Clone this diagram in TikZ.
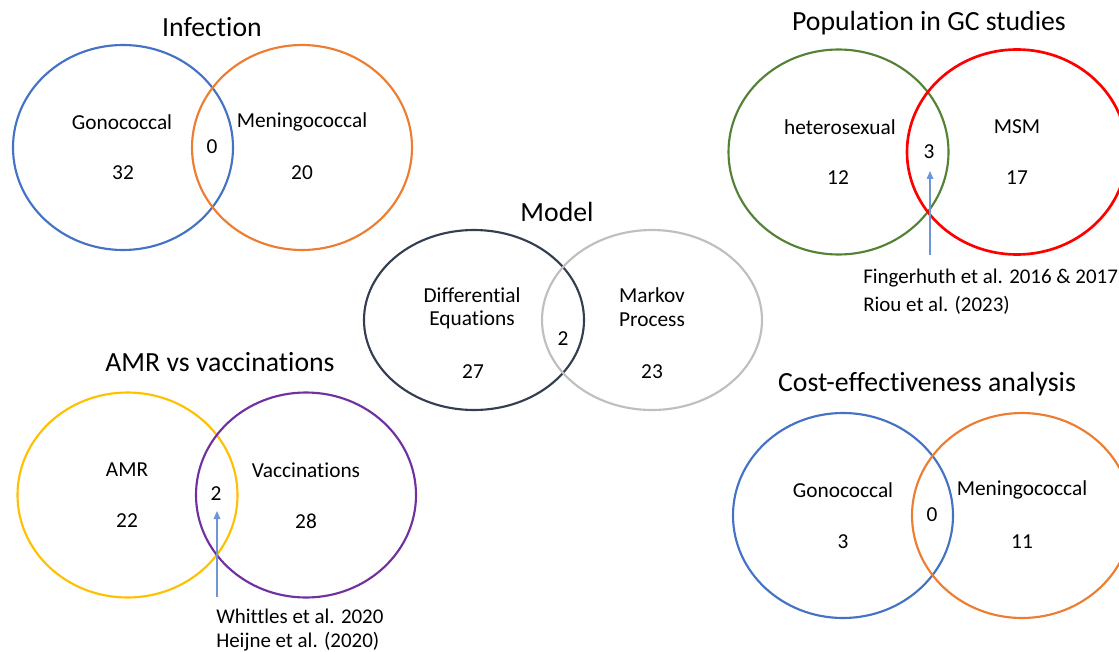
\documentclass[tikz,border=0pt]{standalone}
\usepackage{fontspec}
\setmainfont[Ligatures=NoCommon]{Carlito}
\usetikzlibrary{shapes.geometric,arrows.meta}
\definecolor{cblue}{HTML}{4472C4}
\definecolor{corange}{HTML}{ED7D31}
\definecolor{cgreen}{HTML}{548235}
\definecolor{cred}{HTML}{FF0000}
\definecolor{cdark}{HTML}{333F50}
\definecolor{cgray}{HTML}{BFBFBF}
\definecolor{cyellow}{HTML}{FFC000}
\definecolor{cpurple}{HTML}{7030A0}
\definecolor{carrow}{HTML}{6F95D6}
\def\pxu{0.75pt}
\tikzset{
  venn/.style={ellipse, draw, line width=1.6pt, minimum width=220*\pxu, minimum height=205*\pxu, inner sep=0pt},
  vennm/.style={venn, minimum height=180*\pxu},
  lbl/.style={font=\fontsize{16}{19}\selectfont, inner sep=0pt},
  ttl/.style={font=\fontsize{20.8}{24}\selectfont, inner sep=0pt},
  cite/.style={font=\fontsize{15.7}{19}\selectfont, inner sep=0pt, anchor=west},
  refarrow/.style={draw=carrow, line width=0.8pt, -{Triangle[length=6pt,width=5pt]}}
}
\begin{document}
\begin{tikzpicture}[x=\pxu, y=-\pxu]
\clip (0,0) rectangle (1119,652);
\fill[white] (0,0) rectangle (1119,652);
% Infection
\node[ttl] (t1) at (212,27) {Infection};
\node[venn, draw=cblue] (i1) at (123,147.5) {};
\node[venn, draw=corange] (i2) at (302,147.5) {};
\node[lbl] (i1a) at (122,122) {Gonococcal};
\node[lbl] (i1b) at (123,173) {32};
\node[lbl] (i0) at (212,147) {0};
\node[lbl] (i2a) at (302,122) {Meningococcal};
\node[lbl] (i2b) at (302,173) {20};
% Population
\node[ttl] (t2) at (929,23) {Population in GC studies};
\node[venn, draw=cgreen] (p1) at (838.5,152) {};
\node[venn, draw=cred, line width=2pt] (p2) at (1017,152) {};
\node[lbl] (p1a) at (840,127) {heterosexual};
\node[lbl] (p1b) at (838,178) {12};
\node[lbl] (p0) at (929,152) {3};
\node[lbl] (p2a) at (1017,127) {MSM};
\node[lbl] (p2b) at (1017,178) {17};
\coordinate (pas) at (930,255);
\coordinate (pae) at (930,171);
\draw[refarrow] (pas) -- (pae);
\node[cite] (pc1) at (863,278) {Fingerhuth et al. 2016 \& 2017};
\node[cite] (pc2) at (863,305) {Riou et al. (2023)};
% Model
\node[ttl] (t3) at (557,212) {Model};
\node[vennm, draw=cdark] (m1) at (474,320) {};
\node[vennm, draw=cgray] (m2) at (652,320) {};
\node[lbl] (m1a) at (472,295) {Differential};
\node[lbl] (m1c) at (472,320) {Equations};
\node[lbl] (m1b) at (473,372) {27};
\node[lbl] (m0) at (563,339) {2};
\node[lbl] (m2a) at (652,295) {Markov};
\node[lbl] (m2c) at (652,320) {Process};
\node[lbl] (m2b) at (652,372) {23};
% AMR vs vaccinations
\node[ttl] (t4) at (220,362) {AMR vs vaccinations};
\node[venn, draw=cyellow] (a1) at (127.5,495) {};
\node[venn, draw=cpurple] (a2) at (306,495) {};
\node[lbl] (a1a) at (127,470) {AMR};
\node[lbl] (a1b) at (127,521) {22};
\node[lbl] (a0) at (216,494) {2};
\node[lbl] (a2a) at (306,470) {Vaccinations};
\node[lbl] (a2b) at (306,521) {28};
\coordinate (aas) at (217,597);
\coordinate (aae) at (217,511);
\draw[refarrow] (aas) -- (aae);
\node[cite] (ac1) at (216,616) {Whittles et al. 2020};
\node[cite] (ac2) at (216,642) {Heijne et al. (2020)};
% Cost-effectiveness
\node[ttl] (t5) at (927,384) {Cost-effectiveness analysis};
\node[venn, draw=cblue] (c1) at (843,515.5) {};
\node[venn, draw=corange] (c2) at (1022,515.5) {};
\node[lbl] (c1a) at (843,490) {Gonococcal};
\node[lbl] (c1b) at (843,542) {3};
\node[lbl] (c0) at (932,515) {0};
\node[lbl] (c2a) at (1022,490) {Meningococcal};
\node[lbl] (c2b) at (1022,542) {11};
\end{tikzpicture}
\end{document}
